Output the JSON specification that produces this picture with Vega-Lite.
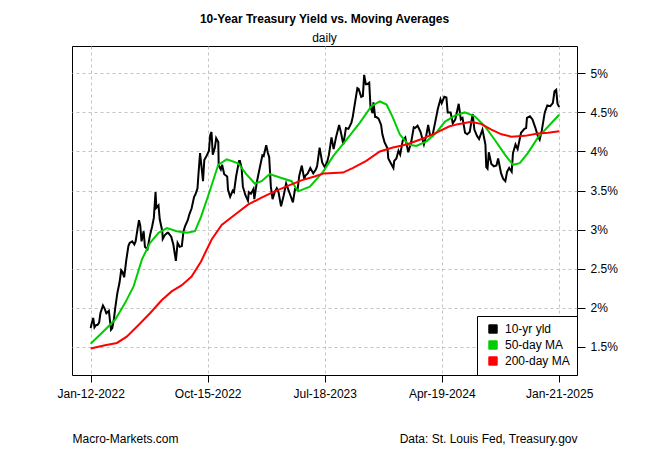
{
  "$schema": "https://vega.github.io/schema/vega-lite/v6.json",
  "width": 505,
  "height": 329,
  "autosize": {"type": "none"},
  "padding": {"left": 72, "top": 46, "right": 73, "bottom": 75},
  "background": "white",
  "title": {
    "text": "10-Year Treasury Yield vs. Moving Averages",
    "subtitle": "daily",
    "font": "Liberation Sans",
    "fontSize": 12,
    "fontWeight": "bold",
    "color": "black",
    "subtitleFont": "Liberation Sans",
    "subtitleFontSize": 12,
    "subtitleColor": "black",
    "subtitlePadding": 7,
    "anchor": "middle",
    "offset": 1
  },
  "config": {
    "font": "Liberation Sans",
    "view": {"stroke": "black", "strokeWidth": 1},
    "axis": {
      "labelColor": "black",
      "labelFontSize": 12,
      "labelFont": "Liberation Sans",
      "tickColor": "black",
      "domain": false,
      "gridColor": "#c4c4c4",
      "gridDash": [3, 3],
      "gridWidth": 1,
      "titleColor": "black",
      "titleFont": "Liberation Sans",
      "titleFontSize": 12,
      "titleFontWeight": "normal"
    }
  },
  "data": {
    "values": [
      {"date": "2022-01-12", "series": "10-yr yld", "value": 1.74},
      {"date": "2022-01-14", "series": "10-yr yld", "value": 1.79},
      {"date": "2022-01-18", "series": "10-yr yld", "value": 1.87},
      {"date": "2022-01-21", "series": "10-yr yld", "value": 1.75},
      {"date": "2022-01-25", "series": "10-yr yld", "value": 1.78},
      {"date": "2022-01-28", "series": "10-yr yld", "value": 1.78},
      {"date": "2022-02-01", "series": "10-yr yld", "value": 1.81},
      {"date": "2022-02-04", "series": "10-yr yld", "value": 1.93},
      {"date": "2022-02-10", "series": "10-yr yld", "value": 2.03},
      {"date": "2022-02-14", "series": "10-yr yld", "value": 1.99},
      {"date": "2022-02-18", "series": "10-yr yld", "value": 1.93},
      {"date": "2022-02-24", "series": "10-yr yld", "value": 1.96},
      {"date": "2022-03-01", "series": "10-yr yld", "value": 1.72},
      {"date": "2022-03-04", "series": "10-yr yld", "value": 1.74},
      {"date": "2022-03-08", "series": "10-yr yld", "value": 1.86},
      {"date": "2022-03-11", "series": "10-yr yld", "value": 2.00},
      {"date": "2022-03-16", "series": "10-yr yld", "value": 2.19},
      {"date": "2022-03-21", "series": "10-yr yld", "value": 2.32},
      {"date": "2022-03-25", "series": "10-yr yld", "value": 2.48},
      {"date": "2022-03-28", "series": "10-yr yld", "value": 2.46},
      {"date": "2022-04-01", "series": "10-yr yld", "value": 2.39},
      {"date": "2022-04-06", "series": "10-yr yld", "value": 2.61},
      {"date": "2022-04-11", "series": "10-yr yld", "value": 2.79},
      {"date": "2022-04-14", "series": "10-yr yld", "value": 2.83},
      {"date": "2022-04-20", "series": "10-yr yld", "value": 2.85},
      {"date": "2022-04-25", "series": "10-yr yld", "value": 2.81},
      {"date": "2022-04-28", "series": "10-yr yld", "value": 2.85},
      {"date": "2022-05-02", "series": "10-yr yld", "value": 2.99},
      {"date": "2022-05-06", "series": "10-yr yld", "value": 3.12},
      {"date": "2022-05-09", "series": "10-yr yld", "value": 3.05},
      {"date": "2022-05-12", "series": "10-yr yld", "value": 2.85},
      {"date": "2022-05-17", "series": "10-yr yld", "value": 2.98},
      {"date": "2022-05-20", "series": "10-yr yld", "value": 2.78},
      {"date": "2022-05-26", "series": "10-yr yld", "value": 2.75},
      {"date": "2022-06-01", "series": "10-yr yld", "value": 2.93},
      {"date": "2022-06-06", "series": "10-yr yld", "value": 3.04},
      {"date": "2022-06-10", "series": "10-yr yld", "value": 3.15},
      {"date": "2022-06-14", "series": "10-yr yld", "value": 3.48},
      {"date": "2022-06-16", "series": "10-yr yld", "value": 3.28},
      {"date": "2022-06-21", "series": "10-yr yld", "value": 3.31},
      {"date": "2022-06-24", "series": "10-yr yld", "value": 3.13},
      {"date": "2022-06-30", "series": "10-yr yld", "value": 2.98},
      {"date": "2022-07-01", "series": "10-yr yld", "value": 2.88},
      {"date": "2022-07-06", "series": "10-yr yld", "value": 2.93},
      {"date": "2022-07-12", "series": "10-yr yld", "value": 2.96},
      {"date": "2022-07-14", "series": "10-yr yld", "value": 2.96},
      {"date": "2022-07-21", "series": "10-yr yld", "value": 2.91},
      {"date": "2022-07-26", "series": "10-yr yld", "value": 2.81},
      {"date": "2022-08-01", "series": "10-yr yld", "value": 2.60},
      {"date": "2022-08-05", "series": "10-yr yld", "value": 2.83},
      {"date": "2022-08-10", "series": "10-yr yld", "value": 2.78},
      {"date": "2022-08-15", "series": "10-yr yld", "value": 2.79},
      {"date": "2022-08-19", "series": "10-yr yld", "value": 2.98},
      {"date": "2022-08-23", "series": "10-yr yld", "value": 3.05},
      {"date": "2022-08-29", "series": "10-yr yld", "value": 3.12},
      {"date": "2022-09-02", "series": "10-yr yld", "value": 3.20},
      {"date": "2022-09-07", "series": "10-yr yld", "value": 3.27},
      {"date": "2022-09-13", "series": "10-yr yld", "value": 3.42},
      {"date": "2022-09-16", "series": "10-yr yld", "value": 3.45},
      {"date": "2022-09-21", "series": "10-yr yld", "value": 3.53},
      {"date": "2022-09-23", "series": "10-yr yld", "value": 3.69},
      {"date": "2022-09-27", "series": "10-yr yld", "value": 3.98},
      {"date": "2022-09-30", "series": "10-yr yld", "value": 3.83},
      {"date": "2022-10-04", "series": "10-yr yld", "value": 3.62},
      {"date": "2022-10-07", "series": "10-yr yld", "value": 3.89},
      {"date": "2022-10-13", "series": "10-yr yld", "value": 3.95},
      {"date": "2022-10-18", "series": "10-yr yld", "value": 4.01},
      {"date": "2022-10-21", "series": "10-yr yld", "value": 4.21},
      {"date": "2022-10-24", "series": "10-yr yld", "value": 4.25},
      {"date": "2022-10-27", "series": "10-yr yld", "value": 3.96},
      {"date": "2022-11-01", "series": "10-yr yld", "value": 4.05},
      {"date": "2022-11-04", "series": "10-yr yld", "value": 4.17},
      {"date": "2022-11-09", "series": "10-yr yld", "value": 4.12},
      {"date": "2022-11-10", "series": "10-yr yld", "value": 3.82},
      {"date": "2022-11-15", "series": "10-yr yld", "value": 3.77},
      {"date": "2022-11-18", "series": "10-yr yld", "value": 3.83},
      {"date": "2022-11-23", "series": "10-yr yld", "value": 3.71},
      {"date": "2022-11-30", "series": "10-yr yld", "value": 3.68},
      {"date": "2022-12-02", "series": "10-yr yld", "value": 3.51},
      {"date": "2022-12-07", "series": "10-yr yld", "value": 3.42},
      {"date": "2022-12-13", "series": "10-yr yld", "value": 3.50},
      {"date": "2022-12-16", "series": "10-yr yld", "value": 3.48},
      {"date": "2022-12-21", "series": "10-yr yld", "value": 3.68},
      {"date": "2022-12-28", "series": "10-yr yld", "value": 3.88},
      {"date": "2022-12-30", "series": "10-yr yld", "value": 3.88},
      {"date": "2023-01-03", "series": "10-yr yld", "value": 3.79},
      {"date": "2023-01-06", "series": "10-yr yld", "value": 3.55},
      {"date": "2023-01-12", "series": "10-yr yld", "value": 3.44},
      {"date": "2023-01-18", "series": "10-yr yld", "value": 3.37},
      {"date": "2023-01-20", "series": "10-yr yld", "value": 3.48},
      {"date": "2023-01-25", "series": "10-yr yld", "value": 3.46},
      {"date": "2023-01-31", "series": "10-yr yld", "value": 3.52},
      {"date": "2023-02-02", "series": "10-yr yld", "value": 3.39},
      {"date": "2023-02-08", "series": "10-yr yld", "value": 3.61},
      {"date": "2023-02-14", "series": "10-yr yld", "value": 3.77},
      {"date": "2023-02-21", "series": "10-yr yld", "value": 3.95},
      {"date": "2023-02-24", "series": "10-yr yld", "value": 3.94},
      {"date": "2023-03-02", "series": "10-yr yld", "value": 4.08},
      {"date": "2023-03-06", "series": "10-yr yld", "value": 3.98},
      {"date": "2023-03-09", "series": "10-yr yld", "value": 3.93},
      {"date": "2023-03-13", "series": "10-yr yld", "value": 3.55},
      {"date": "2023-03-17", "series": "10-yr yld", "value": 3.39},
      {"date": "2023-03-22", "series": "10-yr yld", "value": 3.48},
      {"date": "2023-03-27", "series": "10-yr yld", "value": 3.53},
      {"date": "2023-03-31", "series": "10-yr yld", "value": 3.48},
      {"date": "2023-04-06", "series": "10-yr yld", "value": 3.30},
      {"date": "2023-04-12", "series": "10-yr yld", "value": 3.43},
      {"date": "2023-04-18", "series": "10-yr yld", "value": 3.59},
      {"date": "2023-04-24", "series": "10-yr yld", "value": 3.50},
      {"date": "2023-04-28", "series": "10-yr yld", "value": 3.44},
      {"date": "2023-05-04", "series": "10-yr yld", "value": 3.35},
      {"date": "2023-05-09", "series": "10-yr yld", "value": 3.52},
      {"date": "2023-05-15", "series": "10-yr yld", "value": 3.51},
      {"date": "2023-05-19", "series": "10-yr yld", "value": 3.69},
      {"date": "2023-05-25", "series": "10-yr yld", "value": 3.82},
      {"date": "2023-05-31", "series": "10-yr yld", "value": 3.64},
      {"date": "2023-06-02", "series": "10-yr yld", "value": 3.69},
      {"date": "2023-06-08", "series": "10-yr yld", "value": 3.72},
      {"date": "2023-06-14", "series": "10-yr yld", "value": 3.79},
      {"date": "2023-06-21", "series": "10-yr yld", "value": 3.72},
      {"date": "2023-06-27", "series": "10-yr yld", "value": 3.77},
      {"date": "2023-06-30", "series": "10-yr yld", "value": 3.81},
      {"date": "2023-07-06", "series": "10-yr yld", "value": 4.05},
      {"date": "2023-07-12", "series": "10-yr yld", "value": 3.86},
      {"date": "2023-07-18", "series": "10-yr yld", "value": 3.80},
      {"date": "2023-07-24", "series": "10-yr yld", "value": 3.87},
      {"date": "2023-07-28", "series": "10-yr yld", "value": 3.96},
      {"date": "2023-08-03", "series": "10-yr yld", "value": 4.18},
      {"date": "2023-08-08", "series": "10-yr yld", "value": 4.03},
      {"date": "2023-08-14", "series": "10-yr yld", "value": 4.19},
      {"date": "2023-08-21", "series": "10-yr yld", "value": 4.34},
      {"date": "2023-08-25", "series": "10-yr yld", "value": 4.25},
      {"date": "2023-08-31", "series": "10-yr yld", "value": 4.09},
      {"date": "2023-09-06", "series": "10-yr yld", "value": 4.30},
      {"date": "2023-09-12", "series": "10-yr yld", "value": 4.29},
      {"date": "2023-09-19", "series": "10-yr yld", "value": 4.37},
      {"date": "2023-09-22", "series": "10-yr yld", "value": 4.44},
      {"date": "2023-09-27", "series": "10-yr yld", "value": 4.61},
      {"date": "2023-10-03", "series": "10-yr yld", "value": 4.81},
      {"date": "2023-10-06", "series": "10-yr yld", "value": 4.80},
      {"date": "2023-10-12", "series": "10-yr yld", "value": 4.70},
      {"date": "2023-10-16", "series": "10-yr yld", "value": 4.71},
      {"date": "2023-10-19", "series": "10-yr yld", "value": 4.98},
      {"date": "2023-10-23", "series": "10-yr yld", "value": 4.86},
      {"date": "2023-10-26", "series": "10-yr yld", "value": 4.86},
      {"date": "2023-10-31", "series": "10-yr yld", "value": 4.88},
      {"date": "2023-11-03", "series": "10-yr yld", "value": 4.57},
      {"date": "2023-11-08", "series": "10-yr yld", "value": 4.49},
      {"date": "2023-11-10", "series": "10-yr yld", "value": 4.63},
      {"date": "2023-11-14", "series": "10-yr yld", "value": 4.44},
      {"date": "2023-11-17", "series": "10-yr yld", "value": 4.44},
      {"date": "2023-11-22", "series": "10-yr yld", "value": 4.42},
      {"date": "2023-11-28", "series": "10-yr yld", "value": 4.34},
      {"date": "2023-12-01", "series": "10-yr yld", "value": 4.22},
      {"date": "2023-12-06", "series": "10-yr yld", "value": 4.12},
      {"date": "2023-12-13", "series": "10-yr yld", "value": 4.04},
      {"date": "2023-12-15", "series": "10-yr yld", "value": 3.91},
      {"date": "2023-12-20", "series": "10-yr yld", "value": 3.86},
      {"date": "2023-12-27", "series": "10-yr yld", "value": 3.79},
      {"date": "2023-12-29", "series": "10-yr yld", "value": 3.88},
      {"date": "2024-01-03", "series": "10-yr yld", "value": 3.91},
      {"date": "2024-01-08", "series": "10-yr yld", "value": 4.01},
      {"date": "2024-01-12", "series": "10-yr yld", "value": 3.96},
      {"date": "2024-01-18", "series": "10-yr yld", "value": 4.14},
      {"date": "2024-01-24", "series": "10-yr yld", "value": 4.18},
      {"date": "2024-01-31", "series": "10-yr yld", "value": 3.99},
      {"date": "2024-02-02", "series": "10-yr yld", "value": 4.03},
      {"date": "2024-02-07", "series": "10-yr yld", "value": 4.12},
      {"date": "2024-02-13", "series": "10-yr yld", "value": 4.31},
      {"date": "2024-02-16", "series": "10-yr yld", "value": 4.30},
      {"date": "2024-02-22", "series": "10-yr yld", "value": 4.33},
      {"date": "2024-02-29", "series": "10-yr yld", "value": 4.25},
      {"date": "2024-03-05", "series": "10-yr yld", "value": 4.15},
      {"date": "2024-03-08", "series": "10-yr yld", "value": 4.09},
      {"date": "2024-03-13", "series": "10-yr yld", "value": 4.19},
      {"date": "2024-03-18", "series": "10-yr yld", "value": 4.34},
      {"date": "2024-03-22", "series": "10-yr yld", "value": 4.22},
      {"date": "2024-03-28", "series": "10-yr yld", "value": 4.20},
      {"date": "2024-04-03", "series": "10-yr yld", "value": 4.36},
      {"date": "2024-04-10", "series": "10-yr yld", "value": 4.55},
      {"date": "2024-04-16", "series": "10-yr yld", "value": 4.67},
      {"date": "2024-04-19", "series": "10-yr yld", "value": 4.62},
      {"date": "2024-04-25", "series": "10-yr yld", "value": 4.70},
      {"date": "2024-04-30", "series": "10-yr yld", "value": 4.69},
      {"date": "2024-05-03", "series": "10-yr yld", "value": 4.50},
      {"date": "2024-05-10", "series": "10-yr yld", "value": 4.50},
      {"date": "2024-05-15", "series": "10-yr yld", "value": 4.36},
      {"date": "2024-05-21", "series": "10-yr yld", "value": 4.41},
      {"date": "2024-05-29", "series": "10-yr yld", "value": 4.61},
      {"date": "2024-06-03", "series": "10-yr yld", "value": 4.41},
      {"date": "2024-06-07", "series": "10-yr yld", "value": 4.43},
      {"date": "2024-06-13", "series": "10-yr yld", "value": 4.24},
      {"date": "2024-06-18", "series": "10-yr yld", "value": 4.22},
      {"date": "2024-06-24", "series": "10-yr yld", "value": 4.25},
      {"date": "2024-07-01", "series": "10-yr yld", "value": 4.48},
      {"date": "2024-07-05", "series": "10-yr yld", "value": 4.28},
      {"date": "2024-07-11", "series": "10-yr yld", "value": 4.20},
      {"date": "2024-07-16", "series": "10-yr yld", "value": 4.16},
      {"date": "2024-07-24", "series": "10-yr yld", "value": 4.28},
      {"date": "2024-07-31", "series": "10-yr yld", "value": 4.09},
      {"date": "2024-08-02", "series": "10-yr yld", "value": 3.80},
      {"date": "2024-08-05", "series": "10-yr yld", "value": 3.78},
      {"date": "2024-08-08", "series": "10-yr yld", "value": 3.99},
      {"date": "2024-08-14", "series": "10-yr yld", "value": 3.84},
      {"date": "2024-08-20", "series": "10-yr yld", "value": 3.81},
      {"date": "2024-08-26", "series": "10-yr yld", "value": 3.82},
      {"date": "2024-08-30", "series": "10-yr yld", "value": 3.91},
      {"date": "2024-09-06", "series": "10-yr yld", "value": 3.72},
      {"date": "2024-09-11", "series": "10-yr yld", "value": 3.65},
      {"date": "2024-09-16", "series": "10-yr yld", "value": 3.62},
      {"date": "2024-09-20", "series": "10-yr yld", "value": 3.74},
      {"date": "2024-09-25", "series": "10-yr yld", "value": 3.79},
      {"date": "2024-10-01", "series": "10-yr yld", "value": 3.74},
      {"date": "2024-10-04", "series": "10-yr yld", "value": 3.98},
      {"date": "2024-10-10", "series": "10-yr yld", "value": 4.09},
      {"date": "2024-10-15", "series": "10-yr yld", "value": 4.03},
      {"date": "2024-10-23", "series": "10-yr yld", "value": 4.24},
      {"date": "2024-10-31", "series": "10-yr yld", "value": 4.29},
      {"date": "2024-11-04", "series": "10-yr yld", "value": 4.30},
      {"date": "2024-11-06", "series": "10-yr yld", "value": 4.43},
      {"date": "2024-11-13", "series": "10-yr yld", "value": 4.45},
      {"date": "2024-11-19", "series": "10-yr yld", "value": 4.41},
      {"date": "2024-11-26", "series": "10-yr yld", "value": 4.30},
      {"date": "2024-12-02", "series": "10-yr yld", "value": 4.19},
      {"date": "2024-12-06", "series": "10-yr yld", "value": 4.15},
      {"date": "2024-12-11", "series": "10-yr yld", "value": 4.27},
      {"date": "2024-12-18", "series": "10-yr yld", "value": 4.50},
      {"date": "2024-12-24", "series": "10-yr yld", "value": 4.59},
      {"date": "2024-12-31", "series": "10-yr yld", "value": 4.58},
      {"date": "2025-01-06", "series": "10-yr yld", "value": 4.62},
      {"date": "2025-01-10", "series": "10-yr yld", "value": 4.77},
      {"date": "2025-01-14", "series": "10-yr yld", "value": 4.79},
      {"date": "2025-01-17", "series": "10-yr yld", "value": 4.61},
      {"date": "2025-01-21", "series": "10-yr yld", "value": 4.57},

      {"date": "2022-01-12", "series": "50-day MA", "value": 1.54},
      {"date": "2022-02-15", "series": "50-day MA", "value": 1.72},
      {"date": "2022-03-11", "series": "50-day MA", "value": 1.85},
      {"date": "2022-04-03", "series": "50-day MA", "value": 2.06},
      {"date": "2022-04-23", "series": "50-day MA", "value": 2.27},
      {"date": "2022-05-13", "series": "50-day MA", "value": 2.62},
      {"date": "2022-06-01", "series": "50-day MA", "value": 2.83},
      {"date": "2022-06-21", "series": "50-day MA", "value": 2.96},
      {"date": "2022-07-11", "series": "50-day MA", "value": 3.02},
      {"date": "2022-08-03", "series": "50-day MA", "value": 2.98},
      {"date": "2022-08-27", "series": "50-day MA", "value": 2.96},
      {"date": "2022-09-15", "series": "50-day MA", "value": 2.98},
      {"date": "2022-09-29", "series": "50-day MA", "value": 3.16},
      {"date": "2022-10-16", "series": "50-day MA", "value": 3.43},
      {"date": "2022-11-09", "series": "50-day MA", "value": 3.83},
      {"date": "2022-11-29", "series": "50-day MA", "value": 3.90},
      {"date": "2022-12-26", "series": "50-day MA", "value": 3.85},
      {"date": "2023-01-14", "series": "50-day MA", "value": 3.71},
      {"date": "2023-02-03", "series": "50-day MA", "value": 3.59},
      {"date": "2023-02-19", "series": "50-day MA", "value": 3.62},
      {"date": "2023-03-10", "series": "50-day MA", "value": 3.71},
      {"date": "2023-04-07", "series": "50-day MA", "value": 3.66},
      {"date": "2023-05-01", "series": "50-day MA", "value": 3.62},
      {"date": "2023-05-16", "series": "50-day MA", "value": 3.49},
      {"date": "2023-06-13", "series": "50-day MA", "value": 3.55},
      {"date": "2023-07-14", "series": "50-day MA", "value": 3.74},
      {"date": "2023-08-07", "series": "50-day MA", "value": 3.94},
      {"date": "2023-09-07", "series": "50-day MA", "value": 4.15},
      {"date": "2023-10-09", "series": "50-day MA", "value": 4.37},
      {"date": "2023-11-05", "series": "50-day MA", "value": 4.58},
      {"date": "2023-11-25", "series": "50-day MA", "value": 4.64},
      {"date": "2023-12-11", "series": "50-day MA", "value": 4.60},
      {"date": "2023-12-26", "series": "50-day MA", "value": 4.43},
      {"date": "2024-01-11", "series": "50-day MA", "value": 4.22},
      {"date": "2024-01-31", "series": "50-day MA", "value": 4.09},
      {"date": "2024-02-19", "series": "50-day MA", "value": 4.07},
      {"date": "2024-03-14", "series": "50-day MA", "value": 4.13},
      {"date": "2024-04-06", "series": "50-day MA", "value": 4.24},
      {"date": "2024-04-26", "series": "50-day MA", "value": 4.38},
      {"date": "2024-05-20", "series": "50-day MA", "value": 4.46},
      {"date": "2024-06-12", "series": "50-day MA", "value": 4.50},
      {"date": "2024-07-06", "series": "50-day MA", "value": 4.45},
      {"date": "2024-07-30", "series": "50-day MA", "value": 4.32},
      {"date": "2024-08-22", "series": "50-day MA", "value": 4.15},
      {"date": "2024-09-15", "series": "50-day MA", "value": 3.96},
      {"date": "2024-10-04", "series": "50-day MA", "value": 3.83},
      {"date": "2024-10-20", "series": "50-day MA", "value": 3.85},
      {"date": "2024-11-08", "series": "50-day MA", "value": 3.98},
      {"date": "2024-12-02", "series": "50-day MA", "value": 4.18},
      {"date": "2024-12-26", "series": "50-day MA", "value": 4.32},
      {"date": "2025-01-21", "series": "50-day MA", "value": 4.47},

      {"date": "2022-01-12", "series": "200-day MA", "value": 1.48},
      {"date": "2022-02-15", "series": "200-day MA", "value": 1.52},
      {"date": "2022-03-15", "series": "200-day MA", "value": 1.55},
      {"date": "2022-04-07", "series": "200-day MA", "value": 1.63},
      {"date": "2022-05-05", "series": "200-day MA", "value": 1.78},
      {"date": "2022-06-01", "series": "200-day MA", "value": 1.93},
      {"date": "2022-06-29", "series": "200-day MA", "value": 2.10},
      {"date": "2022-07-22", "series": "200-day MA", "value": 2.21},
      {"date": "2022-08-15", "series": "200-day MA", "value": 2.29},
      {"date": "2022-09-07", "series": "200-day MA", "value": 2.40},
      {"date": "2022-09-29", "series": "200-day MA", "value": 2.59},
      {"date": "2022-10-24", "series": "200-day MA", "value": 2.87},
      {"date": "2022-11-17", "series": "200-day MA", "value": 3.06},
      {"date": "2022-12-18", "series": "200-day MA", "value": 3.19},
      {"date": "2023-01-18", "series": "200-day MA", "value": 3.32},
      {"date": "2023-02-19", "series": "200-day MA", "value": 3.41},
      {"date": "2023-03-22", "series": "200-day MA", "value": 3.49},
      {"date": "2023-04-22", "series": "200-day MA", "value": 3.56},
      {"date": "2023-05-24", "series": "200-day MA", "value": 3.63},
      {"date": "2023-06-24", "series": "200-day MA", "value": 3.68},
      {"date": "2023-07-16", "series": "200-day MA", "value": 3.72},
      {"date": "2023-08-30", "series": "200-day MA", "value": 3.73},
      {"date": "2023-09-23", "series": "200-day MA", "value": 3.79},
      {"date": "2023-10-24", "series": "200-day MA", "value": 3.88},
      {"date": "2023-11-25", "series": "200-day MA", "value": 4.00},
      {"date": "2023-12-26", "series": "200-day MA", "value": 4.05},
      {"date": "2024-01-27", "series": "200-day MA", "value": 4.09},
      {"date": "2024-02-27", "series": "200-day MA", "value": 4.15},
      {"date": "2024-03-29", "series": "200-day MA", "value": 4.22},
      {"date": "2024-05-06", "series": "200-day MA", "value": 4.32},
      {"date": "2024-05-27", "series": "200-day MA", "value": 4.35},
      {"date": "2024-06-28", "series": "200-day MA", "value": 4.38},
      {"date": "2024-07-22", "series": "200-day MA", "value": 4.35},
      {"date": "2024-08-14", "series": "200-day MA", "value": 4.28},
      {"date": "2024-09-07", "series": "200-day MA", "value": 4.22},
      {"date": "2024-09-30", "series": "200-day MA", "value": 4.19},
      {"date": "2024-11-01", "series": "200-day MA", "value": 4.20},
      {"date": "2024-12-02", "series": "200-day MA", "value": 4.23},
      {"date": "2024-12-26", "series": "200-day MA", "value": 4.24},
      {"date": "2025-01-21", "series": "200-day MA", "value": 4.26}
    ]
  },
  "encoding": {
    "x": {
      "field": "date",
      "type": "temporal",
      "scale": {
        "type": "utc",
        "domain": [
          {"year": 2021, "month": 11, "date": 29, "utc": true},
          {"year": 2025, "month": 3, "date": 4, "utc": true}
        ]
      },
      "axis": {
        "values": [
          {"year": 2022, "month": 1, "date": 12, "utc": true},
          {"year": 2022, "month": 10, "date": 15, "utc": true},
          {"year": 2023, "month": 7, "date": 18, "utc": true},
          {"year": 2024, "month": 4, "date": 19, "utc": true},
          {"year": 2025, "month": 1, "date": 21, "utc": true}
        ],
        "labelExpr": "utcFormat(datum.value, '%b-%d-%Y')",
        "grid": true,
        "tickSize": 7,
        "labelPadding": 6,
        "labelFlush": false,
        "labelOverlap": false,
        "labelBound": false,
        "title": "Macro-Markets.com",
        "titleAnchor": "start",
        "titleAlign": "left",
        "titleBaseline": "middle",
        "titleX": 0,
        "titleY": 63
      }
    },
    "y": {
      "field": "value",
      "type": "quantitative",
      "scale": {"domain": [1.14, 5.35], "nice": false, "zero": false},
      "axis": {
        "orient": "right",
        "values": [1.5, 2, 2.5, 3, 3.5, 4, 4.5, 5],
        "labelExpr": "datum.value + '%'",
        "grid": true,
        "tickSize": 8,
        "labelPadding": 5,
        "labelOverlap": false,
        "labelBound": false,
        "title": "Data: St. Louis Fed, Treasury.gov",
        "titleAngle": 0,
        "titleAlign": "right",
        "titleBaseline": "middle",
        "titleX": 0,
        "titleY": 392
      }
    },
    "color": {
      "field": "series",
      "type": "nominal",
      "scale": {
        "domain": ["10-yr yld", "50-day MA", "200-day MA"],
        "range": ["#000000", "#00CD00", "#FF0000"]
      },
      "legend": {
        "title": null,
        "orient": "bottom-right",
        "offset": 0,
        "strokeColor": "black",
        "fillColor": "white",
        "padding": 7,
        "cornerRadius": 0,
        "symbolType": "square",
        "symbolSize": 70,
        "symbolOffset": 3,
        "labelFontSize": 12,
        "labelFont": "Liberation Sans",
        "labelColor": "black",
        "labelOffset": 6,
        "rowPadding": 2,
        "symbolOpacity": 1,
        "encode": {
          "symbols": {
            "update": {
              "fill": {"scale": "color", "field": "value"},
              "stroke": {"value": "black"},
              "strokeWidth": {"value": 1},
              "opacity": {"value": 1}
            }
          }
        }
      }
    }
  },
  "layer": [
    {
      "transform": [{"filter": "datum.series == '10-yr yld'"}],
      "mark": {"type": "line", "strokeWidth": 2}
    },
    {
      "transform": [{"filter": "datum.series == '50-day MA'"}],
      "mark": {"type": "line", "strokeWidth": 2}
    },
    {
      "transform": [{"filter": "datum.series == '200-day MA'"}],
      "mark": {"type": "line", "strokeWidth": 2}
    }
  ]
}
